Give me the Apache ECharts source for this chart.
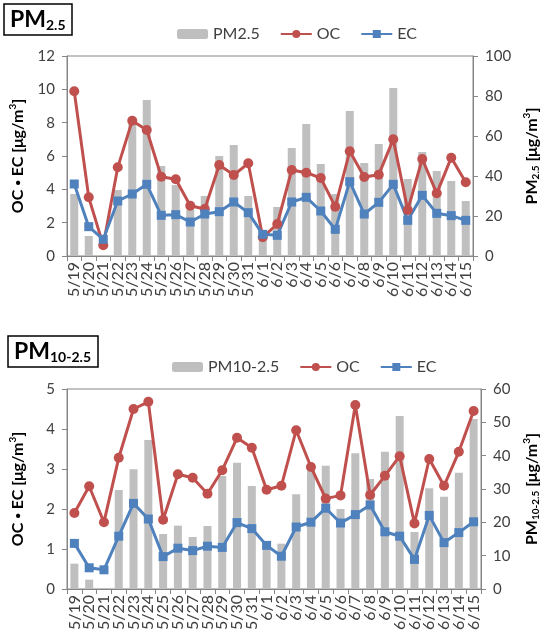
<!DOCTYPE html>
<html>
<head>
<meta charset="utf-8">
<script src="https://cdn.jsdelivr.net/npm/echarts@6/dist/echarts.min.js"></script>
<style>
  html, body { margin: 0; padding: 0; background: #fff; }
  #chart1 { width: 549px; height: 637px; }
</style>
</head>
<body>
<div id="chart1"></div>
<script>
var dates = ['5/19', '5/20', '5/21', '5/22', '5/23', '5/24', '5/25', '5/26', '5/27', '5/28',
    '5/29', '5/30', '5/31', '6/1', '6/2', '6/3', '6/4', '6/5', '6/6', '6/7',
    '6/8', '6/9', '6/10', '6/11', '6/12', '6/13', '6/14', '6/15'];

// PM2.5 panel
var pm25 = [31, 10, 0.5, 33, 66, 78, 45, 35.5, 23, 30, 50, 55.5, 30, 9, 24.5, 54, 66, 46, 31, 72.5,
    46.5, 56, 84, 38.5, 52, 42.5, 37.5, 27.5];
var oc25 = [9.88, 3.52, 0.64, 5.32, 8.12, 7.56, 4.76, 4.6, 3.02, 2.82, 5.46, 4.86, 5.56, 1.12, 1.92,
    5.16, 5.0, 4.68, 2.96, 6.28, 4.74, 4.88, 7.0, 2.76, 5.82, 3.76, 5.9, 4.42];
var ec25 = [4.32, 1.76, 1.0, 3.3, 3.72, 4.3, 2.44, 2.48, 2.04, 2.52, 2.66, 3.24, 2.6, 1.3, 1.24,
    3.24, 3.52, 2.7, 1.6, 4.46, 2.52, 3.22, 4.3, 2.14, 3.64, 2.56, 2.42, 2.14];

// PM10-2.5 panel
var pm10 = [7.6, 2.8, 0.3, 29.7, 35.9, 44.7, 16.5, 19, 15.6, 18.9, 33.9, 37.9, 30.9, 12, 13.6,
    28.4, 36.5, 37, 24, 40.7, 33, 41.2, 51.9, 17.1, 30.2, 27.7, 34.9, 51];
var oc10 = [1.9, 2.57, 1.67, 3.28, 4.5, 4.68, 1.73, 2.87, 2.78, 2.38, 2.97, 3.78, 3.53, 2.48, 2.58,
    3.97, 3.05, 2.26, 2.34, 4.6, 2.35, 2.83, 3.32, 1.64, 3.25, 2.58, 3.43, 4.45];
var ec10 = [1.14, 0.53, 0.48, 1.32, 2.14, 1.75, 0.81, 1.02, 0.96, 1.07, 1.04, 1.66, 1.51, 1.09, 0.82,
    1.55, 1.67, 2.02, 1.65, 1.86, 2.1, 1.43, 1.32, 0.74, 1.84, 1.16, 1.41, 1.68];

var chart1 = echarts.init(document.getElementById('chart1'));
var FONT = 'Lato';
var axisColor = '#868686';
var textColor = '#404040';

function xAxisOf(gi) {
    return {
        type: 'category', gridIndex: gi, data: dates,
        axisLine: {lineStyle: {color: axisColor, width: 1}},
        axisTick: {show: true, length: 5, alignWithLabel: false, lineStyle: {color: axisColor}},
        axisLabel: {rotate: 90, interval: 0, margin: 6, color: textColor, fontFamily: FONT, fontSize: 16}
    };
}
function yAxisOf(gi, max, interval, right, name) {
    return {
        type: 'value', gridIndex: gi, min: 0, max: max, interval: interval,
        position: right ? 'right' : 'left',
        name: name, nameLocation: 'middle', nameRotate: 90,
        nameGap: right ? 41 : 40,
        nameTextStyle: {
            color: '#000', fontFamily: FONT, fontSize: 16, fontWeight: 'bold',
            rich: {
                a: {fontFamily: FONT, fontSize: 16, fontWeight: 'bold', color: '#000'},
                d: {fontFamily: FONT, fontSize: 10, fontWeight: 'bold', color: '#000'},
                s: {fontFamily: FONT, fontSize: 10, fontWeight: 'bold', color: '#000', padding: [9, 0, 0, 0]},
                u: {fontFamily: FONT, fontSize: 10, fontWeight: 'bold', color: '#000', padding: [0, 0, 9, 0]}
            }
        },
        splitLine: {show: false},
        axisLine: {show: true, lineStyle: {color: axisColor, width: 1}},
        axisTick: {show: true, length: 5, lineStyle: {color: axisColor}},
        axisLabel: {color: textColor, fontFamily: FONT, fontSize: 15, margin: 12}
    };
}
function lineOf(name, data, gi, color, symbol, size) {
    return {
        name: name, type: 'line', data: data, xAxisIndex: gi, yAxisIndex: gi * 2,
        symbol: symbol, symbolSize: size, z: 5,
        lineStyle: {color: color, width: 3},
        itemStyle: {color: color}
    };
}
function boxTitle(sub, left, top) {
    return {
        text: '{a|PM}{b|' + sub + '}', left: left, top: top,
        borderColor: '#000', borderWidth: 1.5, padding: [4, 7, 3, 6],
        textStyle: {rich: {
            a: {fontFamily: FONT, fontSize: 23, fontWeight: 'bold', color: '#000'},
            b: {fontFamily: FONT, fontSize: 14, fontWeight: 'bold', color: '#000', padding: [11, 0, 0, 0]}
        }}
    };
}

var option = {
    animation: false,
    title: [boxTitle('2.5', 4, 3), boxTitle('10-2.5', 8, 335)],
    legend: [{
        data: ['PM2.5', 'OC', 'EC'], left: 172, top: 21,
        itemWidth: 31, itemHeight: 10, itemGap: 20,
        textStyle: {fontFamily: FONT, fontSize: 16, color: textColor}
    }, {
        data: ['PM10-2.5', 'OC', 'EC'], left: 167, top: 354,
        itemWidth: 31, itemHeight: 10, itemGap: 20,
        textStyle: {fontFamily: FONT, fontSize: 16, color: textColor}
    }],
    grid: [
        {left: 66, top: 56, width: 429, height: 200, show: true, borderColor: axisColor, borderWidth: 1},
        {left: 66, top: 389, width: 429, height: 200, show: true, borderColor: axisColor, borderWidth: 1}
    ],
    xAxis: [xAxisOf(0), xAxisOf(1)],
    yAxis: [
        yAxisOf(0, 12, 2, false, '{a|OC }{d|•}{a| EC [μg/m}{u|3}{a|]}'),
        yAxisOf(0, 100, 20, true, '{a|PM}{s|2.5}{a| [μg/m}{u|3}{a|]}'),
        yAxisOf(1, 5, 1, false, '{a|OC }{d|•}{a| EC [μg/m}{u|3}{a|]}'),
        yAxisOf(1, 60, 10, true, '{a|PM}{s|10-2.5}{a| [μg/m}{u|3}{a|]}')
    ],
    series: [
        {name: 'PM2.5', type: 'bar', data: pm25, xAxisIndex: 0, yAxisIndex: 1, barWidth: 8,
            itemStyle: {color: '#bfbfbf'}, z: 2},
        lineOf('OC', oc25, 0, '#c0504d', 'circle', 10),
        lineOf('EC', ec25, 0, '#4f81bd', 'rect', 9),
        {name: 'PM10-2.5', type: 'bar', data: pm10, xAxisIndex: 1, yAxisIndex: 3, barWidth: 8,
            itemStyle: {color: '#bfbfbf'}, z: 2},
        lineOf('OC', oc10, 1, '#c0504d', 'circle', 10),
        lineOf('EC', ec10, 1, '#4f81bd', 'rect', 9)
    ]
};
chart1.setOption(option, true);
</script>
</body>
</html>
